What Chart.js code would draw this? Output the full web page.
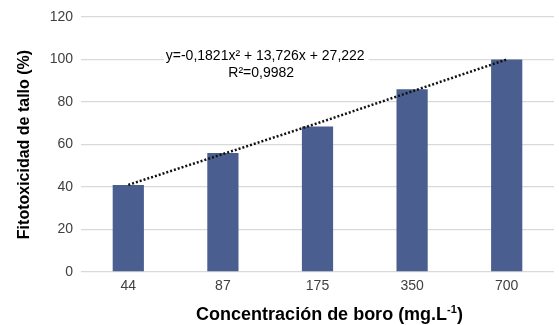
<!DOCTYPE html>
<html>
<head>
<meta charset="utf-8">
<script src="https://cdn.jsdelivr.net/npm/chart.js@4/dist/chart.umd.min.js"></script>
<style>
  html, body { margin: 0; padding: 0; background: #fff; }
  #wrap { width: 559px; height: 325px; position: relative; }
</style>
</head>
<body>
<div id="wrap"><canvas id="chart"></canvas></div>
<script>
// data
const categories = ["44", "87", "175", "350", "700"];
const fitotoxicidad = [41, 56, 68.5, 86, 100];
const trendValues = [41, 55.5, 70, 85, 100];
const yTicks = [0, 20, 40, 60, 80, 100, 120];

const equationLine1 = "y=-0,1821x\u00B2 + 13,726x + 27,222";
const equationLine2 = "R\u00B2=0,9982";
const xTitleMain = "Concentración de boro (mg.L";
const xTitleSup = "-1";
const xTitleEnd = ")";

const fontFamily = "'Liberation Sans', Arial, sans-serif";
Chart.defaults.font.family = fontFamily;
Chart.defaults.color = "#595959";

// trendline label and x title with a real superscript
const extraText = {
  id: "extraText",
  afterDatasetsDraw(chart) {
    const ctx = chart.ctx;
    const x = chart.scales.x;
    const y = chart.scales.y;
    const cx = (x.getPixelForValue(1) + x.getPixelForValue(2)) / 2 - 5;
    const cy = y.getPixelForValue(100);
    ctx.save();
    ctx.font = "14px " + fontFamily;
    const w = ctx.measureText(equationLine1).width;
    ctx.fillStyle = "#fff";
    ctx.fillRect(cx - w / 2 - 2, cy - 14, w + 6, 16);
    ctx.fillStyle = "#000";
    ctx.textAlign = "center";
    ctx.textBaseline = "alphabetic";
    ctx.fillText(equationLine1, cx, cy);
    ctx.fillText(equationLine2, cx - 4, cy + 17);

    // x axis title
    const bold = "bold 18px " + fontFamily;
    const supFont = "bold 11px " + fontFamily;
    ctx.font = bold;
    const w1 = ctx.measureText(xTitleMain).width;
    const w3 = ctx.measureText(xTitleEnd).width;
    ctx.font = supFont;
    const w2 = ctx.measureText(xTitleSup).width;
    const total = w1 + w2 + w3;
    const tx = (chart.chartArea.left + chart.chartArea.right) / 2 + 12 - total / 2;
    const ty = 320;
    ctx.textAlign = "left";
    ctx.font = bold;
    ctx.fillText(xTitleMain, tx, ty);
    ctx.font = supFont;
    ctx.fillText(xTitleSup, tx + w1, ty - 7);
    ctx.font = bold;
    ctx.fillText(xTitleEnd, tx + w1 + w2, ty);
    ctx.restore();
  }
};

const cfg = {
  type: "bar",
  data: {
    labels: categories,
    datasets: [
      {
        type: "line",
        data: trendValues,
        borderColor: "#111",
        borderWidth: 2.5,
        borderDash: [2, 2],
        pointRadius: 0,
        fill: false,
        order: 0,
      },
      {
        data: fitotoxicidad,
        backgroundColor: "#4a5f90",
        borderWidth: 0,
        barPercentage: 0.33,
        categoryPercentage: 1,
        order: 1,
      },
    ],
  },
  options: {
    responsive: true,
    maintainAspectRatio: false,
    animation: false,
    layout: { padding: { left: 0, right: 5, top: 17, bottom: 0 } },
    plugins: {
      legend: { display: false },
      tooltip: { enabled: false },
    },
    scales: {
      x: {
        grid: { display: false, drawTicks: false },
        border: { display: false },
        ticks: { padding: 6, font: { size: 14 }, color: "#404040" },
        afterFit(scale) {
          scale.height = 53;
        },
      },
      y: {
        min: 0,
        max: 120,
        afterBuildTicks(scale) {
          scale.ticks = yTicks.map((v) => ({ value: v }));
        },
        grid: { color: "#d9d9d9", lineWidth: 1.3, drawTicks: false },
        border: { display: false },
        ticks: { padding: 8, font: { size: 14 }, color: "#404040" },
        title: {
          display: true,
          text: "Fitotoxicidad de tallo (%)",
          font: { size: 16, weight: "bold" },
          color: "#000",
          padding: { top: 15, bottom: 0 },
        },
        afterFit(scale) {
          scale.width = 81;
        },
      },
    },
  },
  plugins: [extraText],
};

new Chart(document.getElementById("chart"), cfg);
</script>
</body>
</html>
